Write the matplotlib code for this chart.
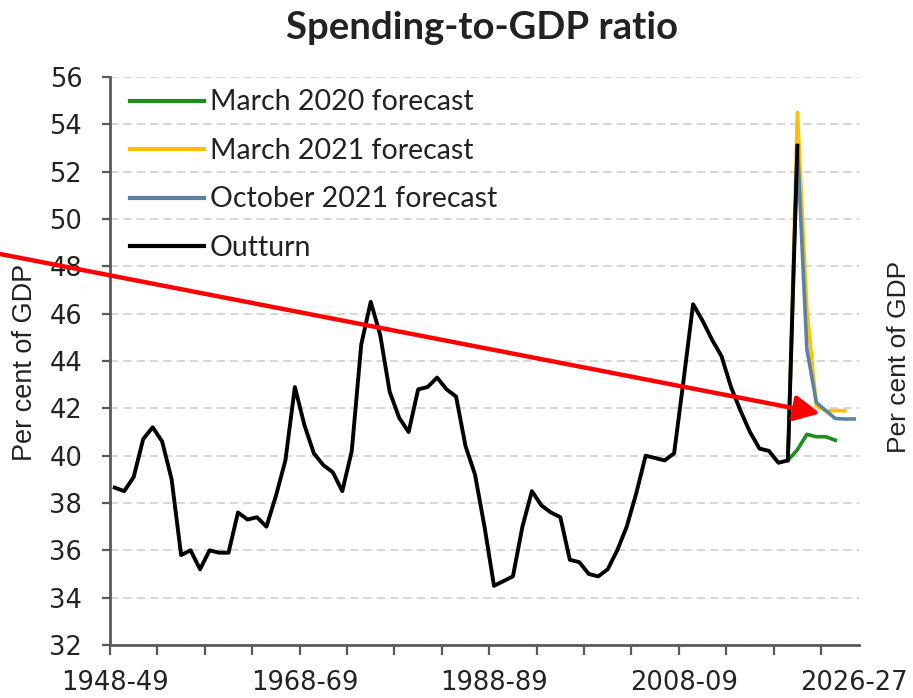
import matplotlib
matplotlib.use("Agg")
import matplotlib.pyplot as plt
from matplotlib.ticker import FixedLocator

# categories: financial years 1948-49 .. 2026-27
start_years = list(range(1948, 2027))
year_labels = ["%d-%02d" % (y, (y + 1) % 100) for y in start_years]

# outturn, 1948-49 .. 2020-21
outturn = [38.65, 38.5, 39.1, 40.7, 41.2, 40.6, 39.0, 35.8, 36.0, 35.2,
           36.0, 35.9, 35.9, 37.6, 37.3, 37.4, 37.0, 38.3, 39.8, 42.9,
           41.3, 40.1, 39.6, 39.3, 38.5, 40.2, 44.7, 46.5, 45.1, 42.7,
           41.6, 41.0, 42.8, 42.9, 43.3, 42.8, 42.5, 40.4, 39.2, 37.0,
           34.5, 34.7, 34.9, 37.0, 38.5, 37.9, 37.6, 37.4, 35.6, 35.5,
           35.0, 34.9, 35.2, 36.0, 37.0, 38.4, 40.0, 39.9, 39.8, 40.1,
           43.2, 46.4, 45.7, 44.9, 44.2, 42.9, 41.9, 41.0, 40.3, 40.2,
           39.7, 39.8, 53.1]

mar20_years = [2019, 2020, 2021, 2022, 2023, 2024]
mar20 = [39.8, 40.25, 40.9, 40.8, 40.8, 40.65]

mar21_years = [2019, 2020, 2021, 2022, 2023, 2024, 2025]
mar21 = [39.8, 54.5, 46.2, 42.1, 41.9, 41.9, 41.9]

oct21_years = [2019, 2020, 2021, 2022, 2023, 2024, 2025, 2026]
oct21 = [39.8, 53.1, 44.5, 42.25, 41.9, 41.57, 41.55, 41.55]

label_years = [1948, 1968, 1988, 2008, 2026]

txt = '#222222'
axcol = '#595959'


def pos(years):
    return [y - start_years[0] for y in years]


fig = plt.figure(figsize=(9.13, 6.98), dpi=100)
ax = fig.add_axes([110 / 913, 1 - 645 / 698, 749 / 913, 568 / 698])

ax.plot(pos(mar20_years), mar20, color='#1E8C1E', lw=2.6, label='March 2020 forecast', zorder=3)
ax.plot(pos(mar21_years), mar21, color='#FFC000', lw=2.6, label='March 2021 forecast', zorder=3)
ax.plot(pos(oct21_years), oct21, color='#5A83A3', lw=2.6, label='October 2021 forecast', zorder=4)
ax.plot(pos(start_years[:len(outturn)]), outturn, color='black', lw=2.8, label='Outturn', zorder=5)

ax.set_xlim(-0.5, len(start_years) - 0.5)
ax.set_ylim(32, 56)
ax.set_yticks(range(32, 57, 2))
ax.yaxis.grid(True, linestyle=(0, (5, 3)), color='#d0d0d0', lw=1.2)
ax.set_axisbelow(True)

ax.xaxis.set_major_locator(FixedLocator(pos(label_years)))
ax.set_xticklabels([year_labels[i] for i in pos(label_years)])
ax.xaxis.set_minor_locator(FixedLocator([-0.5 + 5 * k for k in range(16)]))
ax.xaxis.remove_overlapping_locs = False
ax.tick_params(axis='x', which='major', length=0, pad=18, labelsize=18.5, labelcolor=txt)
ax.tick_params(axis='x', which='minor', length=7, width=1.6, color=axcol, direction='out')
ax.tick_params(axis='y', length=6, width=1.6, color=axcol, direction='out', pad=14,
               labelsize=18.5, labelcolor=txt)
for lab in ax.get_xticklabels() + ax.get_yticklabels():
    lab.set_family('DejaVu Sans')

for s in ['top', 'right']:
    ax.spines[s].set_visible(False)
for s in ['left', 'bottom']:
    ax.spines[s].set_color(axcol)
    ax.spines[s].set_linewidth(2)

leg = ax.legend(loc='upper left', bbox_to_anchor=(20 / 749, 0.978), frameon=False,
                prop={'family': 'Lato', 'size': 20.5}, handlelength=2.6, handletextpad=0.2,
                labelspacing=0.79, borderpad=0, borderaxespad=0)
for t in leg.get_texts():
    t.set_color(txt)
for l in leg.get_lines():
    l.set_linewidth(3)

fig.text(482 / 913, 1 - 28 / 698, 'Spending-to-GDP ratio', ha='center', va='center',
         fontsize=27.5, fontweight='bold', family='Lato', color=txt)
fig.text(25 / 913, 1 - 362 / 698, 'Per cent of GDP', rotation=90, ha='center', va='center',
         fontsize=19.5, family='Liberation Sans', color=txt)
fig.text(899 / 913, 1 - 357 / 698, 'Per cent of GDP', rotation=90, ha='center', va='center',
         fontsize=19, family='Liberation Sans', color=txt)

ax.annotate('', xy=(74.4, 41.79), xycoords='data', xytext=(0, 1 - 254 / 698),
            textcoords='figure fraction', annotation_clip=False,
            arrowprops=dict(arrowstyle='-|>,head_length=0.7,head_width=0.35', color='#FF0000',
                            lw=3.2, shrinkA=0, shrinkB=0, mutation_scale=22), zorder=10)

fig.savefig('out.png', dpi=100)
